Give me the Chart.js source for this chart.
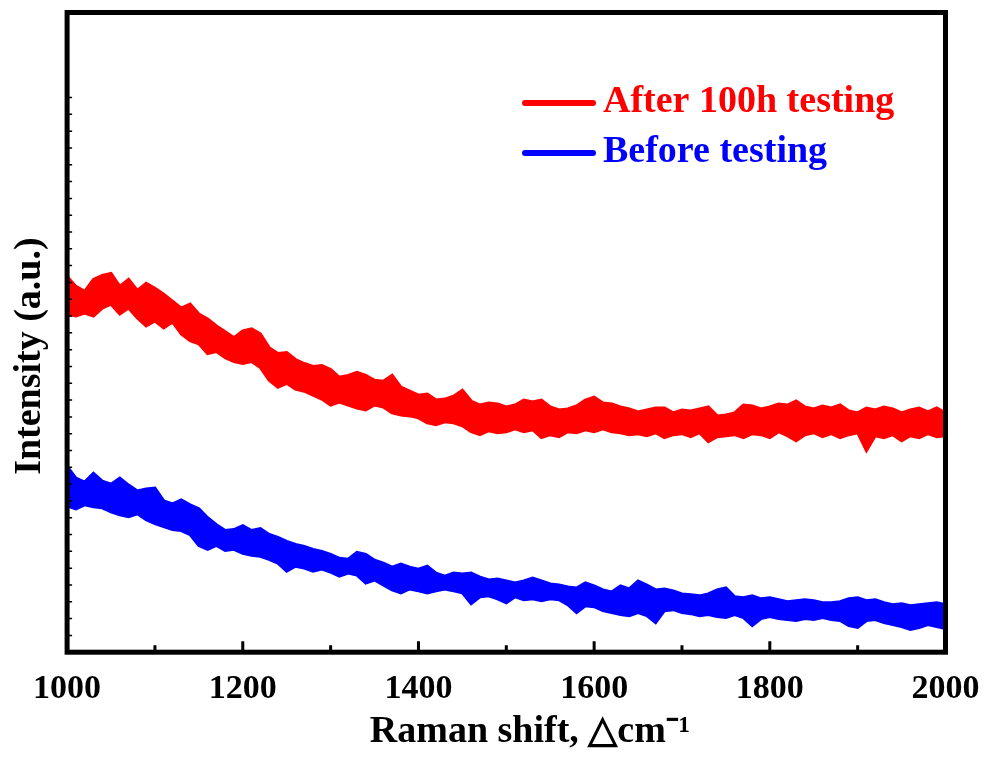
<!DOCTYPE html>
<html>
<head>
<meta charset="utf-8">
<script src="https://cdn.jsdelivr.net/npm/chart.js@4.4.1/dist/chart.umd.min.js"></script>
<style>
  html, body { margin: 0; padding: 0; background: #fff; }
</style>
</head>
<body>
<canvas id="myChart" width="989" height="762"></canvas>
<script>
const ctx = document.getElementById('myChart').getContext('2d');

// Raman shift (cm-1), one sample every 10
const ramanShift = [
  1000, 1010, 1020, 1030, 1040, 1050, 1060, 1070, 1080, 1090,
  1100, 1110, 1120, 1130, 1140, 1150, 1160, 1170, 1180, 1190,
  1200, 1210, 1220, 1230, 1240, 1250, 1260, 1270, 1280, 1290,
  1300, 1310, 1320, 1330, 1340, 1350, 1360, 1370, 1380, 1390,
  1400, 1410, 1420, 1430, 1440, 1450, 1460, 1470, 1480, 1490,
  1500, 1510, 1520, 1530, 1540, 1550, 1560, 1570, 1580, 1590,
  1600, 1610, 1620, 1630, 1640, 1650, 1660, 1670, 1680, 1690,
  1700, 1710, 1720, 1730, 1740, 1750, 1760, 1770, 1780, 1790,
  1800, 1810, 1820, 1830, 1840, 1850, 1860, 1870, 1880, 1890,
  1900, 1910, 1920, 1930, 1940, 1950, 1960, 1970, 1980, 1990,
  2000
];

// noisy spectra: upper and lower edge of the noise band (a.u.)
const afterUpper = [
  380, 370, 365, 377, 381, 383, 370, 377, 366, 373,
  368, 362, 355, 348, 352, 342, 337, 330, 324, 318,
  325, 327, 322, 308, 302, 303, 296, 292, 289, 290,
  286, 278, 280, 283, 280, 275, 274, 280, 268, 264,
  260, 261, 255, 256, 259, 265, 254, 250, 252, 251,
  248, 250, 255, 253, 255, 248, 245, 246, 249, 255,
  258, 252, 251, 248, 246, 243, 245, 247, 247, 242,
  245, 244, 246, 248, 239, 240, 242, 250, 249, 246,
  248, 251, 250, 254, 248, 246, 249, 247, 250, 244,
  242, 247, 245, 248, 246, 242, 245, 247, 243, 247,
  242
];
const afterLower = [
  342, 340, 343, 340, 348, 352, 342, 348, 338, 330,
  335, 328, 334, 322, 315, 312, 302, 304, 298, 294,
  292, 294, 288, 275, 268, 272, 266, 264, 260, 256,
  250, 253, 250, 247, 245, 250, 248, 242, 240, 239,
  237, 232, 230, 233, 232, 229, 223, 220, 224, 222,
  223, 226, 223, 225, 217, 220, 218, 223, 222, 225,
  223, 226, 223, 222, 220, 221, 219, 222, 217, 220,
  221, 218, 222, 213, 218, 219, 220, 217, 221, 220,
  217, 223, 219, 214, 220, 222, 218, 221, 217, 220,
  222, 204, 219, 217, 220, 214, 219, 217, 221, 218,
  219
];
const beforeUpper = [
  188, 176, 172, 181, 173, 170, 176, 169, 163, 165,
  166, 153, 150, 154, 149, 145, 136, 129, 123, 124,
  128, 123, 125, 119, 116, 112, 109, 107, 104, 102,
  99, 95, 94, 101, 99, 93, 90, 86, 89, 86,
  84, 87, 80, 77, 80, 79, 80, 76, 73, 74,
  72, 70, 72, 75, 72, 69, 68, 66, 65, 70,
  67, 63, 61, 67, 64, 72, 68, 63, 64, 62,
  59, 58, 57, 59, 63, 65, 56, 55, 57, 54,
  55, 53, 51, 52, 53, 52, 50, 50, 51, 54,
  55, 52, 53, 50, 48, 49, 47, 48, 49, 50,
  48
];
const beforeLower = [
  148, 145, 149, 147, 146, 142, 139, 137, 140, 134,
  130, 127, 124, 123, 119, 108, 104, 108, 103, 104,
  100, 98, 97, 94, 90, 82, 87, 85, 82, 84,
  81, 77, 80, 78, 70, 73, 68, 63, 60, 64,
  62, 60, 62, 64, 62, 60, 49, 56, 57, 54,
  50, 56, 53, 54, 52, 54, 53, 48, 40, 47,
  46, 42, 40, 38, 37, 40, 37, 30, 42, 43,
  40, 39, 37, 38, 36, 35, 38, 35, 27, 34,
  36, 34, 33, 32, 34, 33, 35, 33, 32, 27,
  25, 32, 33, 30, 28, 26, 23, 25, 28, 26,
  24
];

const xTicks = [1000, 1200, 1400, 1600, 1800, 2000];
const xMinorTicks = [1100, 1300, 1500, 1700, 1900];

const red = 'rgb(255, 0, 0)';
const blue = 'rgb(0, 0, 255)';
const serif = "'Liberation Serif', 'Times New Roman', serif";

function points(values) {
  return values.map((v, i) => ({ x: ramanShift[i], y: v }));
}

// box around the plot with inward tick marks
const framePlugin = {
  id: 'frame',
  afterDatasetsDraw(chart) {
    const { ctx, chartArea: a, scales: { x, y } } = chart;
    ctx.save();
    ctx.strokeStyle = '#000';
    ctx.lineWidth = 3;
    ctx.beginPath();
    xTicks.forEach(v => {
      const px = x.getPixelForValue(v);
      ctx.moveTo(px, a.bottom);
      ctx.lineTo(px, a.bottom - 11);
    });
    xMinorTicks.forEach(v => {
      const px = x.getPixelForValue(v);
      ctx.moveTo(px, a.bottom);
      ctx.lineTo(px, a.bottom - 7);
    });
    ctx.stroke();
    ctx.lineWidth = 1.5;
    ctx.beginPath();
    y.ticks.filter(t => t.value > 0 && t.value <= 561).forEach(t => {
      const py = y.getPixelForValue(t.value);
      ctx.moveTo(a.left, py);
      ctx.lineTo(a.left + 5, py);
    });
    ctx.stroke();
    ctx.lineWidth = 5;
    ctx.strokeRect(a.left, a.top, a.right - a.left, a.bottom - a.top);
    ctx.restore();
  }
};

// legend drawn inside the plot, top right
const legendPlugin = {
  id: 'insideLegend',
  afterDraw(chart) {
    const ctx = chart.ctx;
    const items = chart.data.datasets.filter(d => d.label);
    ctx.save();
    ctx.font = 'bold 38px ' + serif;
    ctx.textBaseline = 'middle';
    ctx.lineCap = 'round';
    items.forEach((d, i) => {
      const yy = 103 + i * 50;
      ctx.strokeStyle = d.borderColor;
      ctx.lineWidth = 6;
      ctx.beginPath();
      ctx.moveTo(525, yy);
      ctx.lineTo(593, yy);
      ctx.stroke();
      ctx.fillStyle = d.borderColor;
      ctx.fillText(d.label, 603, yy - 1);
    });
    ctx.restore();
  }
};

const myChart = new Chart(ctx, {
  type: 'line',
  data: {
    datasets: [
      { label: 'After 100h testing', data: points(afterUpper), borderColor: red, borderWidth: 3, pointRadius: 0, fill: false },
      { label: '', data: points(afterLower), borderColor: red, backgroundColor: red, borderWidth: 3, pointRadius: 0, fill: '-1' },
      { label: 'Before testing', data: points(beforeUpper), borderColor: blue, borderWidth: 3, pointRadius: 0, fill: false },
      { label: '', data: points(beforeLower), borderColor: blue, backgroundColor: blue, borderWidth: 3, pointRadius: 0, fill: '-1' }
    ]
  },
  options: {
    responsive: false,
    animation: false,
    layout: { padding: { left: 0, top: 12.5, right: 43.5, bottom: 18 } },
    plugins: {
      legend: { display: false },
      tooltip: { enabled: false }
    },
    scales: {
      x: {
        type: 'linear',
        min: 1000,
        max: 2000,
        afterBuildTicks: scale => { scale.ticks = xTicks.map(v => ({ value: v })); },
        grid: { display: false },
        border: { display: false },
        ticks: {
          color: '#000',
          padding: 8.6,
          callback: v => String(v),
          font: { family: serif, size: 34, weight: 'bold', lineHeight: 1.2 }
        },
        title: {
          display: true,
          // leading spaces push the centred title a little to the right, as in the figure
          text: '     Raman shift, △cm⁻¹',
          color: '#000',
          padding: { top: 3, bottom: 0 },
          font: { family: serif, size: 38, weight: 'bold', lineHeight: 0.6 }
        }
      },
      y: {
        min: 0,
        max: 647,
        grid: { display: false },
        border: { display: false },
        ticks: { display: false, stepSize: 17 },
        title: {
          display: true,
          text: 'Intensity (a.u.)     ',
          color: '#000',
          padding: { top: 7, bottom: 6.5 },
          font: { family: serif, size: 38, weight: 'bold', lineHeight: 1.2 }
        }
      }
    }
  },
  plugins: [framePlugin, legendPlugin]
});
</script>
</body>
</html>
